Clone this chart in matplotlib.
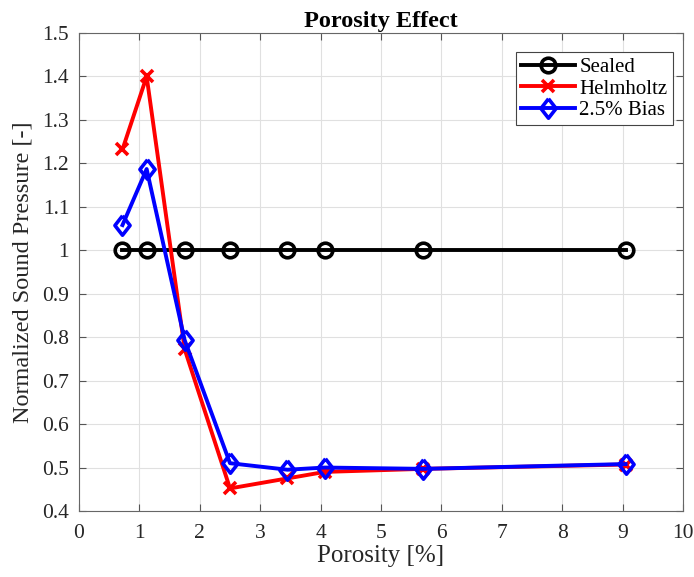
import numpy as np
import matplotlib.pyplot as plt

plt.rcParams["font.family"] = ["Liberation Serif", "DejaVu Serif"]

# === Data ===
porosity = [0.72, 1.12, 1.75, 2.5, 3.45, 4.07, 5.7, 9.05]
sealed = [1.0, 1.0, 1.0, 1.0, 1.0, 1.0, 1.0, 1.0]
helmholtz = [1.232, 1.400, 0.772, 0.452, 0.475, 0.490, 0.497, 0.507]
bias = [1.058, 1.187, 0.793, 0.510, 0.495, 0.500, 0.497, 0.508]

# slightly tall diamond, like MATLAB's
diamond = [(0, 1), (0.78, 0), (0, -1), (-0.78, 0), (0, 1)]

fig = plt.figure(figsize=(6.94, 5.77), dpi=100)
ax = fig.add_axes([79 / 694, 1 - 511 / 577, 604 / 694, 478 / 577])

ax.plot(porosity, sealed, color="black", lw=2.8, marker="o", ms=10.5,
        mfc="none", mew=2.6, label="Sealed")
ax.plot(porosity, helmholtz, color="red", lw=2.8, marker="x", ms=8.5,
        mew=2.6, label="Helmholtz")
ax.plot(porosity, bias, color="blue", lw=2.8, marker=diamond, ms=14,
        mfc="none", mew=2.6, label="2.5% Bias")

ax.set_xlim(0, 10)
ax.set_ylim(0.4, 1.5)
ax.set_xticks(np.arange(0, 11, 1))
ax.set_yticks(np.arange(0.4, 1.51, 0.1))
ax.set_yticklabels(["0.4", "0.5", "0.6", "0.7", "0.8", "0.9", "1",
                    "1.1", "1.2", "1.3", "1.4", "1.5"])
ax.tick_params(direction="in", top=True, right=True, labelsize=15.5,
               length=5, color="#555555", labelcolor="#262626")
ax.tick_params(axis="y", pad=7)
ax.tick_params(axis="x", pad=9)
ax.grid(True, color="#e0e0e0", lw=0.8)
for s in ax.spines.values():
    s.set_color("#666666")

ax.set_xlabel("Porosity [%]", fontsize=18, color="#262626", labelpad=2)
ax.set_ylabel("Normalized Sound Pressure [-]", fontsize=17.5,
              color="#262626", labelpad=6)
ax.set_title("Porosity Effect", fontsize=17.5, fontweight="bold", pad=4)

leg = ax.legend(loc="upper right", bbox_to_anchor=(0.983, 0.96), fontsize=15,
                fancybox=False, edgecolor="#444444", framealpha=1,
                handlelength=2.6, borderaxespad=0, borderpad=0.25,
                labelspacing=0.1, handletextpad=0.2)
leg.get_frame().set_linewidth(0.8)

fig.savefig("out.png", dpi=100)
